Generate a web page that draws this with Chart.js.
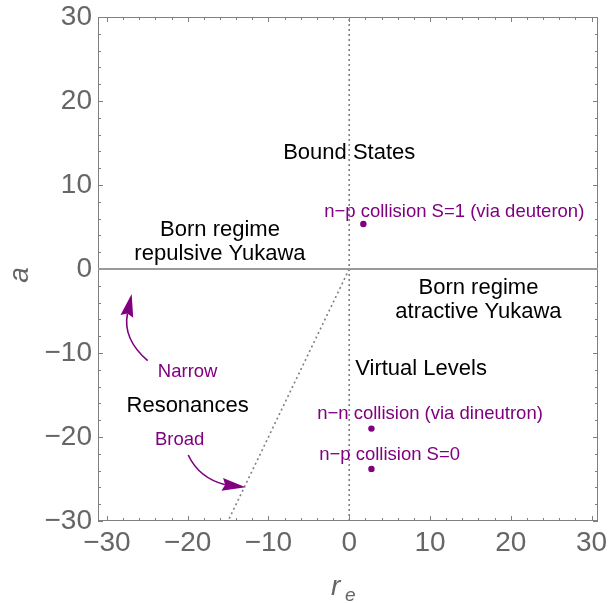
<!DOCTYPE html>
<html><head><meta charset="utf-8">
<script src="https://cdn.jsdelivr.net/npm/chart.js@4"></script>
<style>html,body{margin:0;padding:0;background:#fff}#wrap{width:608px;height:603px}</style>
</head><body><div id="wrap"><canvas id="c" width="608" height="603"></canvas></div>
<script>
// ---- data ----
const pointNames = ["n−p collision S=1 (via deuteron)", "n−n collision (via dineutron)", "n−p collision S=0"];
const pointRe = [1.75, 2.75, 2.75];
const pointA = [5.35, -19.0, -23.8];
const xTicks = [-30, -20, -10, 0, 10, 20, 30];
const yTicks = [-30, -20, -10, 0, 10, 20, 30];
const xRange = [-31.1, 30.8];
const yRange = [-30, 30];
// boundary lines (r_e, a)
const axisLineX = [-31.1, 30.8];
const axisLineY = [0, 0];
const posAxisX = [0, 30.8];
const posAxisY = [0, 0];
const vertLineX = [0, 0];
const vertLineY = [-30, 30];
const diagLineX = [0, -15];
const diagLineY = [0, -30];
// region labels (text, r_e, a)
const regionText = ["Bound States", "Born regime", "repulsive Yukawa", "Born regime", "atractive Yukawa", "Virtual Levels", "Resonances"];
const regionX = [0, -16, -16, 16, 16, 8.9, -20];
const regionY = [13.1, 3.9, 1.05, -3.0, -5.85, -12.6, -17.0];
// point labels
const labelX = [13.0, 10.0, 5.0];
const labelY = [6.15, -17.8, -22.7];
// arrow notes
const noteText = ["Narrow", "Broad"];
const noteX = [-20.0, -21.0];
const noteY = [-12.8, -20.9];
// arrows: tail, control, head base, tip
const narrowArrow = [[-24.95, -10.92], [-28.08, -8.32], [-27.45, -5.30], [-26.93, -2.98]];
const broadArrow = [[-19.93, -22.14], [-18.58, -24.90], [-15.35, -25.68], [-12.82, -25.99]];

const purple = '#800080';
const toPts = (xs, ys) => xs.map((x, i) => ({x, y: ys[i]}));
const fmt = v => (v < 0 ? '\u2212' + Math.abs(v) : String(v));

const decor = {
  id: 'decor',
  beforeDatasetsDraw(chart) {
    const {ctx, chartArea: a, scales: {x, y}} = chart;
    ctx.save();
    ctx.strokeStyle = '#808080';
    ctx.lineWidth = 1;
    ctx.strokeRect(a.left + 0.5, a.top + 0.5, a.right - a.left - 1, a.bottom - a.top - 1);
    ctx.beginPath();
    for (let v = -30; v <= 30; v += 2) {
      const len = v % 10 === 0 ? 5 : 3;
      const px = Math.round(x.getPixelForValue(v)) + 0.5;
      ctx.moveTo(px, a.bottom); ctx.lineTo(px, a.bottom - len);
      ctx.moveTo(px, a.top); ctx.lineTo(px, a.top + len);
      const py = Math.round(y.getPixelForValue(v)) + 0.5;
      ctx.moveTo(a.left, py); ctx.lineTo(a.left + len, py);
      ctx.moveTo(a.right, py); ctx.lineTo(a.right - len, py);
    }
    ctx.stroke();
    ctx.restore();
  },
  afterDatasetsDraw(chart) {
    const {ctx, scales: {x, y}} = chart;
    const P = (d) => [x.getPixelForValue(d[0]), y.getPixelForValue(d[1])];
    ctx.save();
    ctx.textBaseline = 'alphabetic';
    ctx.fillStyle = '#000';
    ctx.font = '22px "Liberation Sans", Arial, sans-serif';
    ctx.textAlign = 'center';
    regionText.forEach((t, i) => {
      ctx.fillText(t, x.getPixelForValue(regionX[i]), y.getPixelForValue(regionY[i]));
    });
    ctx.fillStyle = purple;
    ctx.font = '18.5px "Liberation Sans", Arial, sans-serif';
    pointNames.forEach((t, i) => ctx.fillText(t, x.getPixelForValue(labelX[i]), y.getPixelForValue(labelY[i])));
    noteText.forEach((t, i) => ctx.fillText(t, x.getPixelForValue(noteX[i]), y.getPixelForValue(noteY[i])));
    // arrows
    [narrowArrow, broadArrow].forEach(ar => {
      const [p0, c, b, tip] = ar.map(P);
      ctx.strokeStyle = purple; ctx.lineWidth = 1.6;
      ctx.beginPath(); ctx.moveTo(p0[0], p0[1]); ctx.quadraticCurveTo(c[0], c[1], b[0], b[1]); ctx.stroke();
      const dx = tip[0] - b[0], dy = tip[1] - b[1];
      const L = Math.hypot(dx, dy), ux = dx / L, uy = dy / L;
      const w = 6.5, back = 3;
      ctx.beginPath();
      ctx.moveTo(tip[0], tip[1]);
      ctx.lineTo(b[0] - uy * w - ux * back, b[1] + ux * w - uy * back);
      ctx.lineTo(b[0], b[1]);
      ctx.lineTo(b[0] + uy * w - ux * back, b[1] - ux * w - uy * back);
      ctx.closePath();
      ctx.fillStyle = purple; ctx.fill();
    });
    // axis titles
    ctx.fillStyle = '#666';
    ctx.textAlign = 'left';
    ctx.font = 'italic 28px "Liberation Sans", Arial, sans-serif';
    ctx.fillText('r', 331, 595);
    ctx.font = 'italic 19px "Liberation Sans", Arial, sans-serif';
    ctx.fillText('e', 345, 601);
    ctx.save();
    ctx.translate(28, 275);
    ctx.rotate(-Math.PI / 2);
    ctx.textAlign = 'center';
    ctx.font = 'italic 28px "Liberation Sans", Arial, sans-serif';
    ctx.fillText('a', 0, 0);
    ctx.restore();
    ctx.restore();
  }
};

new Chart(document.getElementById('c'), {
  type: 'scatter',
  data: {
    datasets: [
      {data: toPts(axisLineX, axisLineY), showLine: true, borderColor: '#9a9a9a', borderWidth: 2, pointRadius: 0},
      {data: toPts(posAxisX, posAxisY), showLine: true, borderColor: '#7a7a7a', borderWidth: 1.5, borderDash: [2, 2.5], pointRadius: 0},
      {data: toPts(vertLineX, vertLineY), showLine: true, borderColor: '#808080', borderWidth: 1.6, borderDash: [2, 3], pointRadius: 0},
      {data: toPts(diagLineX, diagLineY), showLine: true, borderColor: '#808080', borderWidth: 1.6, borderDash: [2, 3], pointRadius: 0},
      {data: toPts(pointRe, pointA), showLine: false, backgroundColor: purple, borderColor: purple, pointRadius: 3.2, borderWidth: 0}
    ]
  },
  options: {
    responsive: false, animation: false, events: [],
    layout: {padding: {left: 0, top: 17, right: 10, bottom: 0}},
    plugins: {legend: {display: false}, tooltip: {enabled: false}},
    scales: {
      x: {
        type: 'linear', min: xRange[0], max: xRange[1],
        grid: {display: false, drawTicks: false, tickLength: 0}, border: {display: false},
        afterBuildTicks: s => { s.ticks = xTicks.map(v => ({value: v})); },
        afterFit: s => { s.height = 82; s.paddingLeft = 0; s.paddingRight = 0; },
        ticks: {color: '#666', font: {family: '"Liberation Sans", Arial, sans-serif', size: 28}, padding: 5, maxRotation: 0, autoSkip: false, callback: v => fmt(v)}
      },
      y: {
        type: 'linear', min: yRange[0], max: yRange[1],
        grid: {display: false, drawTicks: false, tickLength: 0}, border: {display: false},
        afterBuildTicks: s => { s.ticks = yTicks.map(v => ({value: v})); },
        afterFit: s => { s.width = 98; s.paddingTop = 0; s.paddingBottom = 0; },
        ticks: {color: '#666', font: {family: '"Liberation Sans", Arial, sans-serif', size: 28}, padding: 6, autoSkip: false, callback: v => fmt(v)}
      }
    }
  },
  plugins: [decor]
});
</script></body></html>
